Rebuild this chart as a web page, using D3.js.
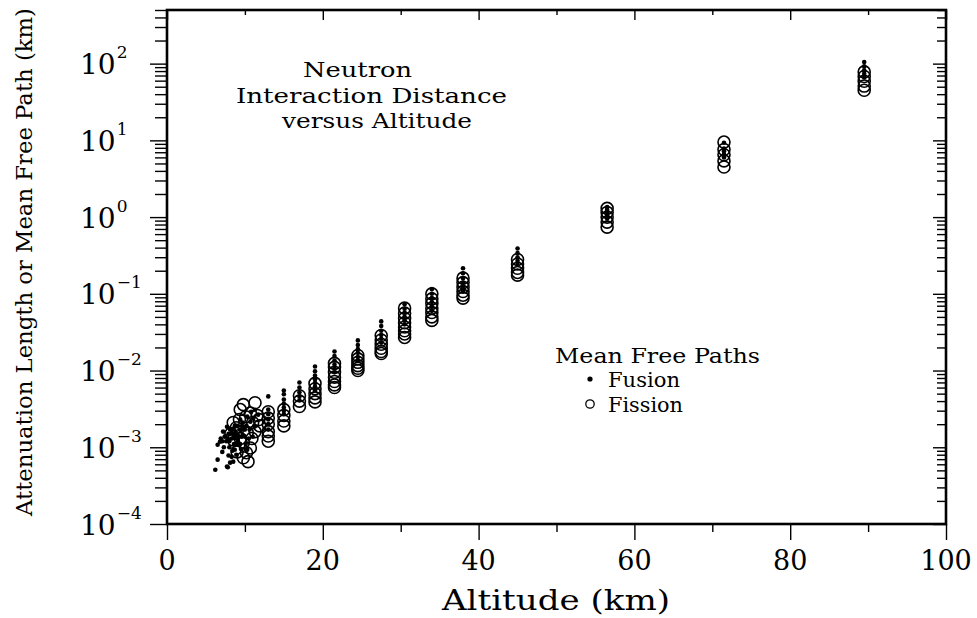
<!DOCTYPE html>
<html>
<head>
<meta charset="utf-8">
<style>
  body { margin: 0; background: #fff; }
  text { font-family: "DejaVu Serif", serif; fill: #000; }
</style>
<script src="https://d3js.org/d3.v7.min.js"></script>
</head>
<body>
<svg id="chart" width="977" height="618"></svg>
<script>
// altitudes (km) of the regular columns of points
const columnAlts = [13, 15, 17, 19, 21.5, 24.5, 27.5, 30.5, 34, 38, 45, 56.5, 71.5, 89.5];

// fusion mean free paths (km) at each column altitude
const fusionByColumn = [
  [0.0046, 0.0031, 0.0027, 0.0023, 0.002, 0.0017],
  [0.0055, 0.0049, 0.0042, 0.0037, 0.0033, 0.003, 0.0027],
  [0.007, 0.006, 0.0052, 0.0046, 0.0041],
  [0.0113, 0.0098, 0.0086, 0.0077, 0.0069, 0.0062, 0.0055],
  [0.0177, 0.0155, 0.0135, 0.012, 0.0107, 0.0095],
  [0.0247, 0.0215, 0.019, 0.017, 0.015, 0.0135],
  [0.0437, 0.038, 0.033, 0.029, 0.026, 0.023],
  [0.073, 0.064, 0.057, 0.05, 0.045, 0.04],
  [0.115, 0.1, 0.088, 0.078, 0.068, 0.06],
  [0.215, 0.185, 0.16, 0.14, 0.125, 0.11],
  [0.39, 0.34, 0.3, 0.27, 0.24],
  [1.35, 1.25, 1.15, 1.05, 0.95],
  [9.3, 7.8, 7.2, 6.6, 6.0],
  [105, 92, 82, 74, 66]
];

// fission mean free paths (km) at each column altitude
const fissionByColumn = [
  [0.0029, 0.0024, 0.002, 0.0016, 0.0014, 0.0012],
  [0.0031, 0.0026, 0.0022, 0.0019],
  [0.0047, 0.004, 0.0034],
  [0.0068, 0.0058, 0.005, 0.0044, 0.0039],
  [0.0124, 0.011, 0.0095, 0.0082, 0.0072, 0.0065, 0.006],
  [0.0157, 0.0142, 0.0128, 0.0116, 0.0107, 0.01],
  [0.0286, 0.025, 0.022, 0.0195, 0.0177, 0.0167],
  [0.065, 0.056, 0.048, 0.042, 0.037, 0.033, 0.03, 0.027],
  [0.1, 0.086, 0.075, 0.065, 0.057, 0.05, 0.045],
  [0.16, 0.14, 0.122, 0.107, 0.096, 0.088],
  [0.28, 0.245, 0.215, 0.19, 0.175],
  [1.3, 1.15, 1.0, 0.86, 0.74],
  [9.5, 7.6, 6.5, 5.4, 4.5],
  [78, 68, 59, 51, 45]
];

// low altitude scatter [altitude km, path km]
const clusterFusion = [
  [6.2, 0.00051], [6.5, 0.00069], [6.5, 0.00108], [6.8, 0.00118], [6.9, 0.0013],
  [7.1, 0.00087], [7.1, 0.0012], [7.2, 0.0016], [7.3, 0.001], [7.4, 0.00137],
  [7.5, 0.0014], [7.6, 0.0012], [7.7, 0.00185], [7.7, 0.00056], [7.8, 0.00055],
  [7.8, 0.0013], [7.9, 0.0015], [7.9, 0.00078], [8.0, 0.0012], [8.0, 0.001],
  [8.1, 0.0017], [8.1, 0.00063], [8.2, 0.0015], [8.3, 0.00075], [8.3, 0.0013],
  [8.4, 0.0017], [8.4, 0.0009], [8.5, 0.00065], [8.6, 0.0011], [8.6, 0.0014],
  [8.7, 0.00093], [8.7, 0.0019], [8.8, 0.0016], [8.9, 0.0008], [8.9, 0.0013],
  [9.0, 0.0019], [9.1, 0.00108], [9.1, 0.0012], [9.2, 0.0014], [9.3, 0.0017],
  [9.4, 0.00229], [9.4, 0.0011], [9.5, 0.00095], [9.6, 0.00137], [9.7, 0.0021],
  [9.8, 0.00185], [9.9, 0.0014], [10.0, 0.0017], [10.1, 0.0011], [10.2, 0.0019],
  [10.3, 0.00251], [10.3, 0.00093], [10.5, 0.0013], [10.6, 0.0017], [10.7, 0.00215],
  [10.8, 0.0029], [11.0, 0.00137], [11.1, 0.0024], [11.2, 0.0019], [11.3, 0.00309],
  [11.7, 0.00266]
];
const clusterFission = [
  [9.8, 0.0036], [11.3, 0.0038], [9.4, 0.0031], [10.7, 0.0028], [10.1, 0.0025],
  [11.6, 0.0026], [9.3, 0.0023], [8.5, 0.0021], [11.0, 0.0021], [11.8, 0.0023],
  [8.9, 0.0018], [9.0, 0.0016], [8.2, 0.0015], [10.3, 0.00155], [11.3, 0.0016],
  [11.9, 0.0019], [9.4, 0.0013], [10.9, 0.0013], [8.5, 0.00125], [9.8, 0.00115],
  [10.7, 0.00098], [9.0, 0.00087], [10.2, 0.00085], [9.8, 0.00073], [10.4, 0.00065]
];

const xTickValues = [0, 10, 20, 30, 40, 50, 60, 70, 80, 90, 100];
const xTickLabels = [0, 20, 40, 60, 80, 100];
const yTickExponents = [-4, -3, -2, -1, 0, 1, 2];

const svg = d3.select('#chart');
const plot = { left: 167, right: 946, top: 10, bottom: 524 };

const x = d3.scaleLinear().domain([0, 100]).range([plot.left, plot.right]);
const y = d3.scaleLog().domain([1e-4, 5e2]).range([plot.bottom, plot.top]);

// log ticks 1..9 per decade
const yTicks = [];
yTickExponents.forEach(e => {
  for (let k = 1; k <= 9; k++) {
    const v = k * Math.pow(10, e);
    if (v <= 5e2 * 1.0001) yTicks.push(v);
  }
});
const isMajorY = v => Math.abs(Math.log10(v) - Math.round(Math.log10(v))) < 1e-6;
const isMajorX = v => v % 20 === 0;

function styleTicks(g) {
  g.select('.domain').remove();
  g.selectAll('.tick text').remove();
  g.selectAll('.tick line').attr('stroke', '#000').attr('stroke-width', 1.4);
}

// left: outward
svg.append('g').attr('transform', `translate(${plot.left},0)`)
  .call(d3.axisLeft(y).tickValues(yTicks))
  .call(styleTicks)
  .call(g => g.selectAll('.tick line').attr('x2', d => isMajorY(d) ? -17 : -12));

// right: inward
svg.append('g').attr('transform', `translate(${plot.right},0)`)
  .call(d3.axisLeft(y).tickValues(yTicks))
  .call(styleTicks)
  .call(g => g.selectAll('.tick line').attr('x2', d => isMajorY(d) ? -13 : -9));

// bottom: outward
svg.append('g').attr('transform', `translate(0,${plot.bottom})`)
  .call(d3.axisBottom(x).tickValues(xTickValues))
  .call(styleTicks)
  .call(g => g.selectAll('.tick line').attr('y2', d => isMajorX(d) ? 16 : 8));

// top: inward
svg.append('g').attr('transform', `translate(0,${plot.top})`)
  .call(d3.axisBottom(x).tickValues(xTickValues))
  .call(styleTicks)
  .call(g => g.selectAll('.tick line').attr('y2', d => isMajorX(d) ? 10 : 5));

// frame
svg.append('rect')
  .attr('x', plot.left).attr('y', plot.top)
  .attr('width', plot.right - plot.left).attr('height', plot.bottom - plot.top)
  .attr('fill', 'none').attr('stroke', '#000').attr('stroke-width', 2.6);

// tick labels
svg.append('g').selectAll('text').data(xTickLabels).join('text')
  .attr('x', d => x(d)).attr('y', 570)
  .attr('text-anchor', 'middle').attr('font-size', 27)
  .text(d => d);

const yLab = svg.append('g').selectAll('text').data(yTickExponents).join('text')
  .attr('x', 80).attr('y', d => y(Math.pow(10, d)) + 10.5)
  .attr('font-size', 28);
yLab.append('tspan').text('10');
yLab.append('tspan').attr('font-size', 17).attr('dy', -16).attr('dx', 1)
  .text(d => d < 0 ? '\u2212' + Math.abs(d) : d);

// axis titles
svg.append('text')
  .attr('x', 442).attr('y', 610).attr('font-size', 27)
  .attr('textLength', 228).attr('lengthAdjust', 'spacingAndGlyphs')
  .text('Altitude (km)');

svg.append('text')
  .attr('transform', 'translate(32,516) rotate(-90)')
  .attr('font-size', 22.5)
  .attr('textLength', 508).attr('lengthAdjust', 'spacingAndGlyphs')
  .text('Attenuation Length or Mean Free Path (km)');

// chart title
const titleLines = [
  { text: 'Neutron', x: 303, y: 77, w: 109 },
  { text: 'Interaction Distance', x: 236, y: 103, w: 271 },
  { text: 'versus Altitude', x: 282, y: 128, w: 190 }
];
svg.append('g').selectAll('text').data(titleLines).join('text')
  .attr('x', d => d.x).attr('y', d => d.y).attr('font-size', 21)
  .attr('textLength', d => d.w).attr('lengthAdjust', 'spacingAndGlyphs')
  .text(d => d.text);

// data points
const fusionPts = clusterFusion.concat(
  columnAlts.flatMap((a, i) => fusionByColumn[i].map(v => [a, v])));
const fissionPts = clusterFission.concat(
  columnAlts.flatMap((a, i) => fissionByColumn[i].map(v => [a, v])));

svg.append('g').selectAll('circle').data(fissionPts).join('circle')
  .attr('cx', d => x(d[0])).attr('cy', d => y(d[1])).attr('r', 6)
  .attr('fill', 'none').attr('stroke', '#000').attr('stroke-width', 1.6);

svg.append('g').selectAll('circle').data(fusionPts).join('circle')
  .attr('cx', d => x(d[0])).attr('cy', d => y(d[1])).attr('r', 2.3)
  .attr('fill', '#000');

// legend
const legend = svg.append('g');
legend.append('text').attr('x', 555).attr('y', 363).attr('font-size', 21)
  .attr('textLength', 205).attr('lengthAdjust', 'spacingAndGlyphs')
  .text('Mean Free Paths');
legend.append('circle').attr('cx', 590).attr('cy', 379).attr('r', 2.6).attr('fill', '#000');
legend.append('text').attr('x', 608).attr('y', 387).attr('font-size', 21)
  .attr('textLength', 72).attr('lengthAdjust', 'spacingAndGlyphs')
  .text('Fusion');
legend.append('circle').attr('cx', 590).attr('cy', 404).attr('r', 4.2)
  .attr('fill', 'none').attr('stroke', '#000').attr('stroke-width', 1.3);
legend.append('text').attr('x', 608).attr('y', 412).attr('font-size', 21)
  .attr('textLength', 75).attr('lengthAdjust', 'spacingAndGlyphs')
  .text('Fission');
</script>
</body>
</html>
